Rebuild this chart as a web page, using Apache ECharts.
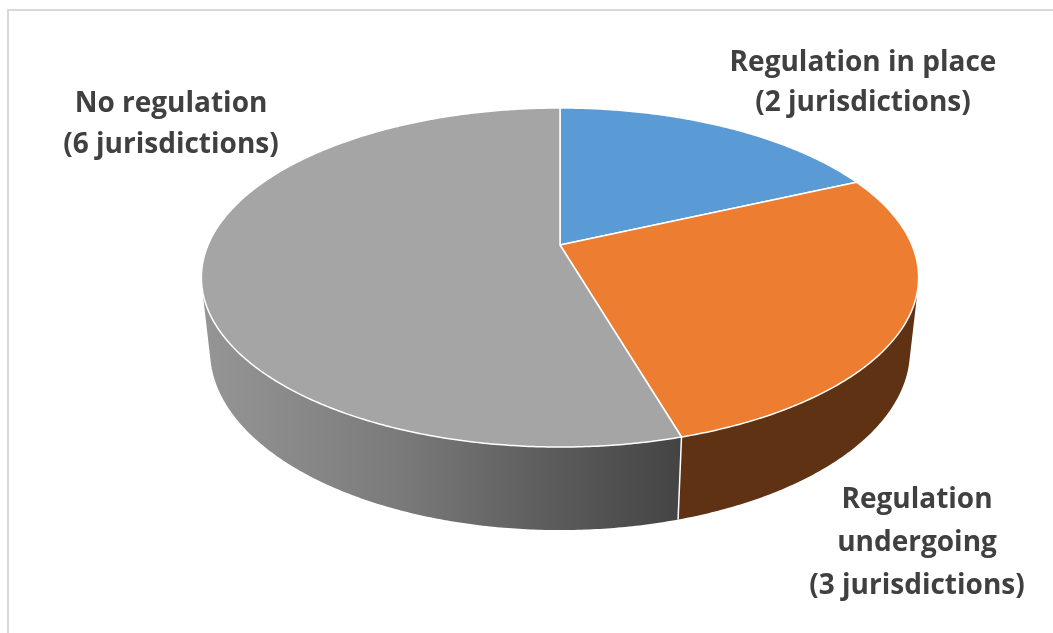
<!DOCTYPE html>
<html><head><meta charset="utf-8">
<script src="https://cdn.jsdelivr.net/npm/echarts@6/dist/echarts.min.js"></script>
<style>html,body{margin:0;padding:0;background:#fff}#chart{width:1053px;height:633px}</style>
</head><body><div id="chart"></div>
<script>
// ---- data ----
const categories = ['Regulation in place', 'Regulation undergoing', 'No regulation'];
const jurisdictions = [2, 3, 6];
const labelTexts = ['Regulation in place\n(2 jurisdictions)', 'Regulation\nundergoing\n(3 jurisdictions)', 'No regulation\n(6 jurisdictions)'];

// ---- styles / layout ----
const topColors = ['#5b9bd5', '#ed7d31', '#a5a5a5'];
const wallColors = [
  '#3b6a94',
  '#5e3213',
  {type: 'linear', x: 205, y: 0, x2: 680, y2: 0, global: true,
   colorStops: [{offset: 0, color: '#959595'}, {offset: 0.4, color: '#7b7b7b'}, {offset: 0.75, color: '#5a5a5a'}, {offset: 1, color: '#444444'}]}
];
const LABEL_POS = [[863, 83], [917, 543], [171, 125]];
const LABEL_LH = [40, 43, 41];

const VIEW = {cx: 560, cy: 245, F: 1626, D: 4.62, sinA: 0.464, T: 0.237};
VIEW.cosA = Math.sqrt(1 - VIEW.sinA * VIEW.sinA);
function proj(theta, r, yw) {
  const X = r * Math.sin(theta), Z = r * Math.cos(theta);
  const {cx, cy, F, D, sinA, cosA} = VIEW;
  const yc = yw * cosA + Z * sinA;
  const zc = D - yw * sinA + Z * cosA;
  return [cx + F * X / zc, cy - F * yc / zc];
}
const TH_A = Math.acos(-1 / (VIEW.D * VIEW.cosA));
const TH_B = 2 * Math.PI - TH_A;

const total = jurisdictions.reduce((a, b) => a + b, 0);
let acc = 0;
const sliceData = jurisdictions.map((v, i) => { const s = acc; acc += v; return {name: categories[i], value: [s, acc, v]}; });

function arcPts(a, b, yw) {
  const pts = [];
  const n = Math.max(2, Math.ceil((b - a) / (Math.PI / 360)));
  for (let k = 0; k <= n; k++) pts.push(proj(a + (b - a) * k / n, 1, yw));
  return pts;
}

function renderItem(params, api) {
  const i = params.dataIndex;
  const a = api.value(0) / total * 2 * Math.PI;
  const b = api.value(1) / total * 2 * Math.PI;
  const children = [];
  const wa = Math.max(a, TH_A), wb = Math.min(b, TH_B);
  if (wb > wa) {
    const pts = arcPts(wa, wb, 0).concat(arcPts(wa, wb, -VIEW.T).reverse());
    children.push({type: 'polygon', z2: 1, shape: {points: pts}, style: {fill: wallColors[i], stroke: null}});
  }
  if (a > TH_A && a < TH_B) {
    const p1 = proj(a, 1, 0), p2 = proj(a, 1, -VIEW.T);
    children.push({type: 'line', z2: 2, shape: {x1: p1[0], y1: p1[1], x2: p2[0], y2: p2[1]}, style: {stroke: '#ffffff', lineWidth: 1.5}});
  }
  const topPts = [proj(0, 0, 0)].concat(arcPts(a, b, 0));
  children.push({type: 'polygon', z2: 3, shape: {points: topPts}, style: {fill: topColors[i], stroke: '#ffffff', lineWidth: 1.5, lineJoin: 'round'}});
  children.push({type: 'text', z2: 4, x: LABEL_POS[i][0], y: LABEL_POS[i][1],
    style: {text: labelTexts[i], fill: '#404040', fontSize: 28, fontWeight: 'bold', fontFamily: '"Open Sans", "Noto Sans", sans-serif',
      align: 'center', verticalAlign: 'middle', lineHeight: LABEL_LH[i]}});
  return {type: 'group', children};
}

const chart = echarts.init(document.getElementById('chart'), null, {renderer: 'canvas'});
chart.setOption({
  animation: false,
  backgroundColor: '#ffffff',
  graphic: [{type: 'polyline', shape: {points: [[8, 640], [8, 10], [1060, 10]]}, style: {stroke: '#d9d9d9', lineWidth: 2, fill: null}, silent: true}],
  series: [{type: 'custom', coordinateSystem: 'none', silent: true, renderItem, data: sliceData}]
});
</script></body></html>
